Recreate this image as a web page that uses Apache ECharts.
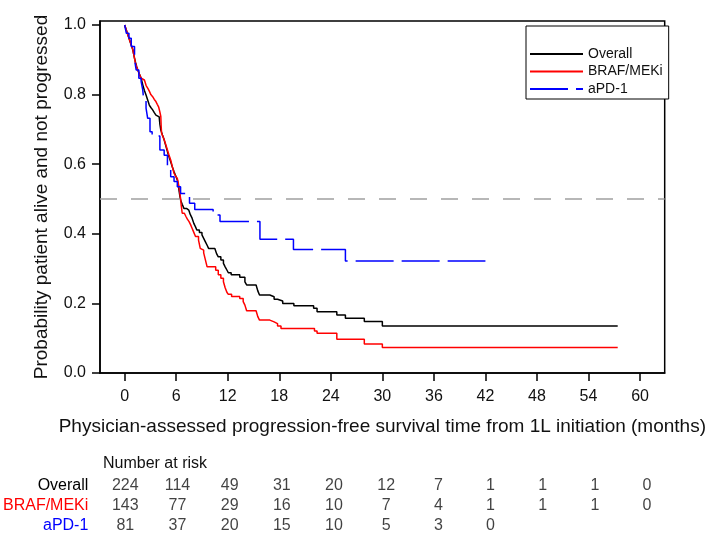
<!DOCTYPE html>
<html>
<head>
<meta charset="utf-8">
<script src="https://cdn.jsdelivr.net/npm/echarts@6/dist/echarts.min.js"></script>
<style>
html,body{margin:0;padding:0;background:#fff;}
#chart{width:709px;height:536px;}
</style>
</head>
<body>
<div id="chart"></div>
<script>
// ---- data ----
var seriesNames = ['Overall', 'BRAF/MEKi', 'aPD-1'];
var seriesColors = ['#000000', '#ff0000', '#0000ff'];

// Kaplan-Meier steps: [time (months), survival probability after the drop]
var overallSteps = [[0,1],[0.2,0.985],[0.4,0.97],[0.6,0.955],[0.8,0.94],[0.96,0.928],[1.1,0.91],[1.26,0.893],[1.4,0.88],[1.53,0.871],[1.7,0.86],[1.92,0.847],[2.11,0.828],[2.3,0.812],[2.49,0.799],[2.7,0.783],[2.87,0.77],[3.05,0.763],[3.26,0.756],[3.45,0.748],[3.64,0.741],[3.85,0.736],[4.02,0.732],[4.1,0.715],[4.21,0.698],[4.4,0.684],[4.6,0.67],[4.8,0.652],[4.98,0.636],[5.15,0.622],[5.36,0.607],[5.55,0.592],[5.75,0.578],[5.95,0.566],[6.13,0.555],[6.25,0.54],[6.32,0.526],[6.42,0.51],[6.51,0.497],[6.7,0.485],[6.9,0.473],[7.2,0.468],[7.47,0.464],[7.65,0.455],[7.85,0.445],[8.05,0.43],[8.25,0.42],[8.4,0.411],[8.7,0.404],[9.0,0.397],[9.2,0.387],[9.4,0.377],[9.6,0.367],[9.77,0.358],[10.5,0.353],[10.7,0.343],[10.9,0.334],[11.2,0.325],[11.5,0.315],[11.7,0.305],[11.9,0.296],[12.07,0.288],[12.4,0.282],[13.4,0.275],[14.0,0.262],[14.2,0.253],[15.3,0.248],[15.5,0.236],[15.7,0.224],[16.9,0.219],[17.4,0.212],[17.8,0.207],[18.4,0.2],[19.7,0.193],[22.0,0.186],[22.4,0.176],[24.7,0.167],[25.7,0.157],[27.9,0.148],[30.0,0.135],[57.4,0.135]];
var brafSteps = [[0,1],[0.2,0.985],[0.4,0.97],[0.6,0.955],[0.8,0.94],[0.96,0.928],[1.1,0.91],[1.26,0.89],[1.4,0.88],[1.53,0.871],[1.7,0.86],[1.92,0.847],[2.1,0.842],[2.3,0.837],[2.5,0.826],[2.7,0.818],[2.87,0.81],[3.05,0.8],[3.26,0.794],[3.45,0.786],[3.64,0.78],[3.8,0.772],[3.95,0.765],[4.1,0.75],[4.21,0.737],[4.25,0.71],[4.3,0.689],[4.45,0.68],[4.6,0.67],[4.8,0.655],[4.98,0.641],[5.15,0.627],[5.36,0.612],[5.55,0.593],[5.75,0.574],[5.95,0.565],[6.13,0.559],[6.25,0.545],[6.32,0.535],[6.42,0.518],[6.51,0.502],[6.58,0.483],[6.7,0.459],[6.95,0.454],[7.15,0.449],[7.3,0.442],[7.5,0.435],[7.7,0.425],[7.85,0.416],[8.05,0.404],[8.25,0.392],[8.6,0.382],[8.8,0.358],[9.0,0.353],[9.2,0.345],[9.4,0.325],[9.6,0.305],[10.6,0.295],[10.9,0.282],[11.2,0.272],[11.5,0.262],[11.7,0.245],[11.9,0.232],[12.07,0.226],[12.45,0.22],[13.4,0.214],[13.8,0.205],[14.0,0.195],[14.2,0.179],[15.3,0.176],[15.5,0.162],[15.7,0.152],[16.9,0.147],[17.4,0.142],[17.8,0.135],[18.2,0.128],[22.1,0.121],[22.4,0.114],[24.7,0.097],[27.9,0.083],[30.0,0.073],[57.4,0.073]];
var apdSteps = [[0,1],[0.2,0.976],[0.5,0.962],[0.77,0.938],[1.15,0.9],[1.34,0.871],[1.65,0.847],[1.92,0.837],[2.11,0.813],[2.22,0.784],[2.49,0.761],[2.68,0.732],[2.95,0.693],[3.2,0.681],[4.1,0.641],[4.6,0.626],[4.98,0.588],[5.36,0.564],[5.75,0.55],[6.13,0.535],[6.51,0.516],[7.55,0.488],[8.16,0.47],[10.3,0.454],[11.1,0.435],[15.75,0.384],[19.65,0.355],[25.7,0.322],[42.0,0.322]];

var xTicks = [0, 6, 12, 18, 24, 30, 36, 42, 48, 54, 60];
var yTicks = [0, 0.2, 0.4, 0.6, 0.8, 1.0];
var refLineY = 0.5;

var riskTimes = [0, 6, 12, 18, 24, 30, 36, 42, 48, 54, 60];
var riskOverall = [224, 114, 49, 31, 20, 12, 7, 1, 1, 1, 0];
var riskBraf = [143, 77, 29, 16, 10, 7, 4, 1, 1, 1, 0];
var riskApd = [81, 37, 20, 15, 10, 5, 3, 0];

var xTitle = 'Physician-assessed progression-free survival time from 1L initiation (months)';
var yTitle = 'Probability patient alive and not progressed';
var riskHeader = 'Number at risk';

// ---- chart ----
var FONT = '"Liberation Sans", Arial, Helvetica, sans-serif';
var XMIN = -2.87, XMAX = 62.87, YMIN = 0, YMAX = 1.0115;

var riskData = [];
[riskOverall, riskBraf, riskApd].forEach(function (arr, r) {
  arr.forEach(function (v, i) { riskData.push([riskTimes[i], seriesNames[r], v]); });
});

var chart = echarts.init(document.getElementById('chart'), null, {renderer: 'canvas'});
var option = {
  animation: false,
  backgroundColor: '#ffffff',
  textStyle: {fontFamily: FONT},
  title: {
    text: riskHeader, left: 103, top: 456, padding: 0,
    textStyle: {fontFamily: FONT, fontSize: 16, fontWeight: 'normal', color: '#111'}
  },
  legend: {
    data: seriesNames, orient: 'vertical', left: 526, top: 26,
    padding: [21, 6, 3, 3], itemWidth: 53, itemHeight: 14, itemGap: 3.5,
    borderColor: '#000', borderWidth: 1, backgroundColor: '#fff',
    itemStyle: {opacity: 0, borderWidth: 0},
    textStyle: {fontFamily: FONT, fontSize: 14, color: '#111'}
  },
  grid: [
    {left: 100, right: 37, top: 21, bottom: 163, show: true, borderColor: '#000', borderWidth: 1.5, backgroundColor: 'transparent'},
    {left: 100, right: 37, top: 476, height: 60}
  ],
  xAxis: [
    {
      gridIndex: 0, type: 'value', min: XMIN, max: XMAX,
      splitLine: {show: false},
      axisLine: {show: true, onZero: false, lineStyle: {color: '#000', width: 1.5}},
      axisTick: {show: true, length: 8, customValues: xTicks, lineStyle: {color: '#000', width: 1.5}},
      axisLabel: {customValues: xTicks, fontSize: 16, margin: 16, color: '#111', fontFamily: FONT},
      name: xTitle, nameLocation: 'middle', nameGap: 44,
      nameTextStyle: {fontSize: 19, color: '#111', fontFamily: FONT}
    },
    {
      gridIndex: 1, type: 'value', min: XMIN, max: XMAX, show: false
    }
  ],
  yAxis: [
    {
      gridIndex: 0, type: 'value', min: YMIN, max: YMAX,
      splitLine: {show: false},
      axisLine: {show: true, onZero: false, lineStyle: {color: '#000', width: 1.5}},
      axisTick: {show: true, length: 8, customValues: yTicks, lineStyle: {color: '#000', width: 1.5}},
      axisLabel: {customValues: yTicks, fontSize: 16, margin: 14, color: '#111', fontFamily: FONT,
        formatter: function (v) { return v.toFixed(1); }},
      name: yTitle, nameLocation: 'middle', nameGap: 49, nameRotate: 90,
      nameTextStyle: {fontSize: 19, color: '#111', fontFamily: FONT}
    },
    {
      gridIndex: 1, type: 'category', data: seriesNames, inverse: true,
      axisLine: {show: false}, axisTick: {show: false}, splitLine: {show: false},
      axisLabel: {
        interval: 0, hideOverlap: false,
        margin: 12, fontSize: 16, fontFamily: FONT,
        formatter: function (v, i) { return '{c' + i + '|' + v + '}'; },
        rich: {
          c0: {color: seriesColors[0], fontSize: 16, fontFamily: FONT},
          c1: {color: seriesColors[1], fontSize: 16, fontFamily: FONT},
          c2: {color: seriesColors[2], fontSize: 16, fontFamily: FONT}
        }
      }
    }
  ],
  series: [
    {
      name: seriesNames[0], type: 'line', step: 'end', data: overallSteps,
      symbol: 'none', showSymbol: false, color: seriesColors[0],
      lineStyle: {color: seriesColors[0], width: 1.5},
      markLine: {
        silent: true, symbol: 'none', label: {show: false},
        lineStyle: {color: '#a0a0a0', width: 1.5, type: [17, 14]},
        data: [{yAxis: refLineY}]
      }
    },
    {
      name: seriesNames[1], type: 'line', step: 'end', data: brafSteps,
      symbol: 'none', showSymbol: false, color: seriesColors[1],
      lineStyle: {color: seriesColors[1], width: 1.5}
    },
    {
      name: seriesNames[2], type: 'line', step: 'end', data: apdSteps,
      symbol: 'none', showSymbol: false, color: seriesColors[2],
      lineStyle: {color: seriesColors[2], width: 1.5, type: [38, 8]}
    },
    {
      name: 'risk', type: 'scatter', xAxisIndex: 1, yAxisIndex: 1,
      data: riskData, symbolSize: 1, itemStyle: {color: 'rgba(0,0,0,0)'},
      silent: true,
      label: {
        show: true, position: 'inside', fontSize: 16, color: '#111', fontFamily: FONT,
        formatter: function (p) { return String(p.value[2]); }
      }
    }
  ]
};
chart.setOption(option);
</script>
</body>
</html>
